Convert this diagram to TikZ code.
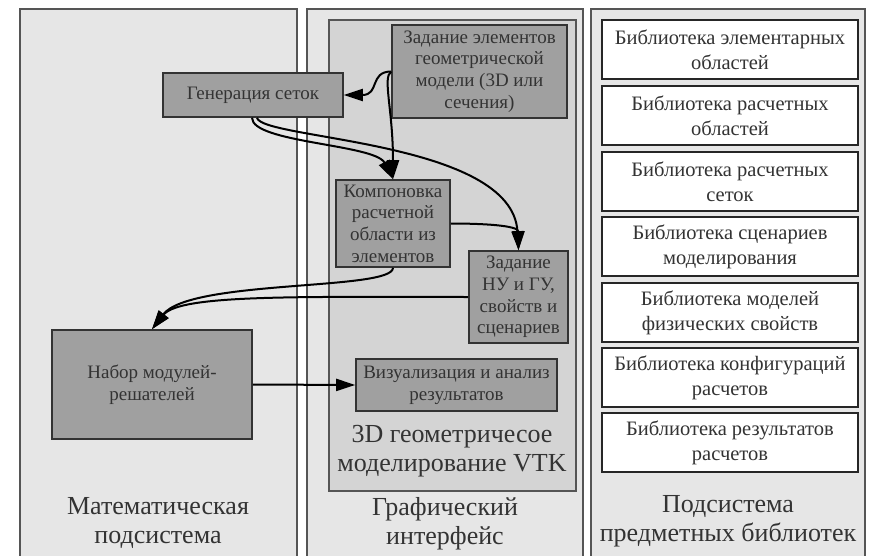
\documentclass[tikz,border=0pt]{standalone}
\usepackage{fontspec}
\setmainfont{Liberation Serif}
\usetikzlibrary{arrows.meta,calc}
\definecolor{panelfill}{HTML}{E6E6E6}
\definecolor{innerfill}{HTML}{D4D4D4}
\definecolor{boxfill}{HTML}{A0A0A0}
\definecolor{bordc}{HTML}{555555}
\definecolor{txtc}{HTML}{333333}
\begin{document}
\begin{tikzpicture}[x=1pt,y=-1pt,
  panel/.style={draw=bordc,line width=2pt,fill=panelfill},
  innerpanel/.style={draw=bordc,line width=2pt,fill=innerfill},
  gbox/.style={draw=black!80,line width=1.6pt,fill=boxfill,inner sep=0pt,align=center,text=txtc,
     font=\fontsize{19}{21.7}\selectfont},
  libbox/.style={draw=black!85,line width=1.8pt,fill=white,inner sep=0pt,align=center,text=txtc,
     minimum width=256pt,minimum height=59pt,font=\fontsize{20.5}{25}\selectfont},
  biglabel/.style={align=center,text=txtc,font=\fontsize{26}{29}\selectfont},
  arr/.style={draw=black,line width=2pt,-{Triangle[length=19pt,width=12pt]}}
]
\useasboundingbox (0,0) rectangle (870,556);
\fill[white] (0,0) rectangle (870,556);
% panels
\draw[panel] (20,9) rectangle (297,570);
\draw[panel] (307,9) rectangle (583,570);
\draw[panel] (591,9) rectangle (865,570);
\draw[innerpanel] (329,20) rectangle (576,491);
% labels
\node[biglabel] (lm) at (158,523) {Математическая\\подсистема};
\node[biglabel] (lg) at (445,524) {Графический\\интерфейс};
\node[biglabel] (lv) at (452,451) {3D геометричесое\\моделирование VTK};
\node[biglabel] (lb) at (728,521) {Подсистема\\предметных библиотек};
% library boxes
\node[libbox] (b1) at (730,49.5) {Библиотека элементарных\\областей};
\node[libbox] (b2) at (730,115.5) {Библиотека расчетных\\областей};
\node[libbox] (b3) at (730,181.5) {Библиотека расчетных\\сеток};
\node[libbox] (b4) at (730,246.5) {Библиотека сценариев\\моделирования};
\node[libbox] (b5) at (730,312.5) {Библиотека моделей\\физических свойств};
\node[libbox] (b6) at (730,377.5) {Библиотека конфигураций\\расчетов};
\node[libbox] (b7) at (730,442.5) {Библиотека результатов\\расчетов};
% process boxes
\node[gbox,minimum width=180pt,minimum height=44pt] (G) at (253,95) {Генерация сеток};
\node[gbox,minimum width=175pt,minimum height=93pt] (Z) at (479.5,71.5) {Задание элементов\\геометрической\\модели (3D или\\сечения)};
\node[gbox,minimum width=114pt,minimum height=87pt] (K) at (393,223.5) {Компоновка\\расчетной\\области из\\элементов};
\node[gbox,minimum width=99pt,minimum height=92pt] (N) at (518.5,297) {Задание\\НУ и ГУ,\\свойств и\\сценариев};
\node[gbox,minimum width=200pt,minimum height=109pt] (S) at (152,384.5) {Набор модулей-\\решателей};
\node[gbox,minimum width=201pt,minimum height=52pt] (V) at (456.5,385) {Визуализация и анализ\\результатов};
% connectors
\draw[arr] (Z.west) .. controls +(-22,0) and +(36,0) .. (G.east);
\draw[arr] (Z.west) .. controls +(-9,6) and +(0,-70) .. (K.north);
\draw[arr] ($(G.south)+(-1,0)$) .. controls +(0,25) and +(-18,-35) .. (K.north);
\draw[arr] ($(G.south)+(4,0)$) .. controls +(5,22) and +(-6,-110) .. (N.north);
\draw[arr] (K.east) .. controls +(30,0) and +(0,-25) .. (N.north);
\draw[arr] (K.south) .. controls +(0,23) and +(38,-50) .. (S.north);
\draw[arr] (N.west) .. controls +(-169,0) and +(28,-35) .. (S.north);
\draw[arr] (S.east) -- (V.west);
\end{tikzpicture}
\end{document}
